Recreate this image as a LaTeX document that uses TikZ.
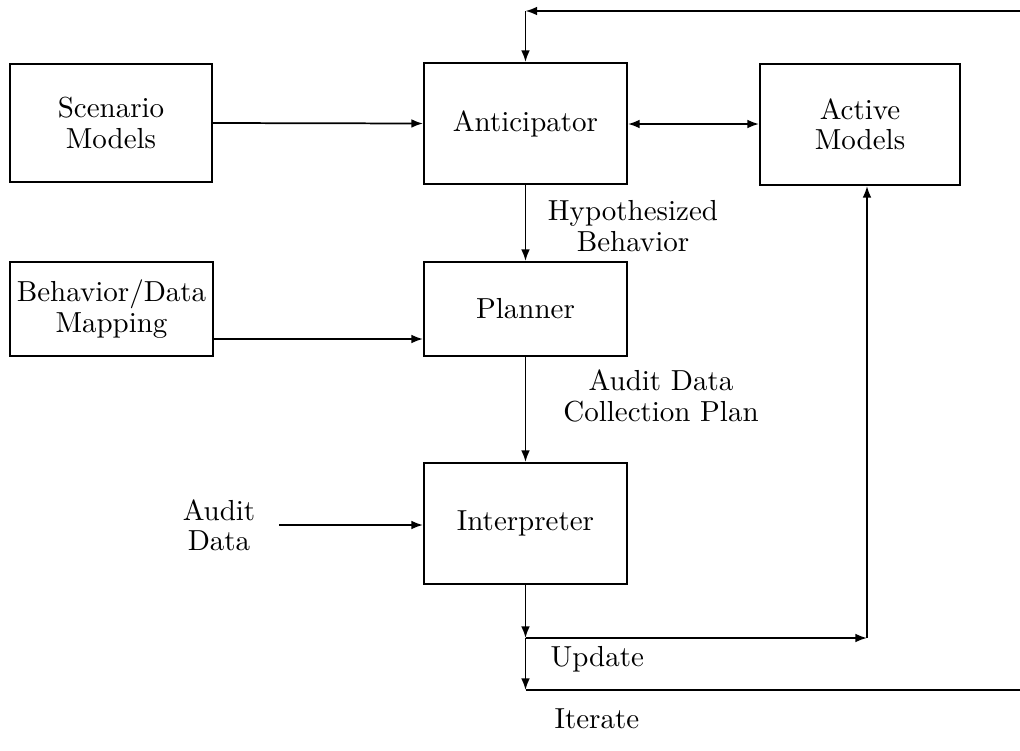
\documentclass[tikz,border=0pt]{standalone}
\usetikzlibrary{arrows.meta}
\begin{document}
\begin{tikzpicture}[x=0.345pt,y=-0.345pt,
  every node/.style={font=\fontsize{10}{10.5}\selectfont, align=center},
  block/.style={draw, line width=0.7pt, inner sep=0pt},
  arr/.style={line width=0.6pt, -{Latex[length=4pt,width=3pt]}},
  dblarr/.style={line width=0.6pt, {Latex[length=4pt,width=3pt]}-{Latex[length=4pt,width=3pt]}},
  wire/.style={line width=0.6pt},
  lbl/.style={inner sep=0pt}]
  \useasboundingbox (0,0) rectangle (1020,751);

  % processing blocks
  \node[block, minimum width=202*0.345pt, minimum height=118*0.345pt] (scen) at (111,123) {Scenario\\Models};
  \node[block, minimum width=203*0.345pt, minimum height=121*0.345pt] (antic) at (525.5,123.5) {Anticipator};
  \node[block, minimum width=200*0.345pt, minimum height=121*0.345pt] (active) at (860,124.5) {Active\\Models};
  \node[block, minimum width=203*0.345pt, minimum height=94*0.345pt] (behav) at (111.5,309) {Behavior/Data\\Mapping};
  \node[block, minimum width=203*0.345pt, minimum height=94*0.345pt] (plan) at (525.5,309) {Planner};
  \node[block, minimum width=203*0.345pt, minimum height=121*0.345pt] (interp) at (525.5,523.5) {Interpreter};

  % free labels
  \node[lbl] (audit) at (219,525) {Audit\\Data};
  \node[lbl] (hyp) at (633,226) {Hypothesized\\Behavior};
  \node[lbl] (adcp) at (661,396) {Audit Data\\Collection Plan};
  \node[lbl, anchor=base west] (upd) at (550,666) {Update};
  \node[lbl, anchor=base west] (iter) at (554,728) {Iterate};

  % auxiliary points
  \coordinate (r1) at (1020,11);
  \coordinate (t1) at (antic.north |- r1);
  \coordinate (a1) at (279,525);
  \coordinate (b1) at (behav.east |- 0,339);
  \coordinate (m1) at (antic.east |- 0,124);
  \coordinate (j1) at (interp.south |- 0,638);
  \coordinate (j2) at (interp.south |- 0,690);
  \coordinate (u1) at (867,638);
  \coordinate (r2) at (1020,690);

  % connectors
  \draw[arr] (scen.east) -- (antic.west);
  \draw[dblarr] (m1) -- (active.west |- m1);
  \draw[arr] (antic.south) -- (plan.north);
  \draw[arr] (b1) -- (plan.west |- b1);
  \draw[arr] (plan.south) -- (interp.north);
  \draw[arr] (a1) -- (interp.west |- a1);
  \draw[arr] (interp.south) -- (j1);
  \draw[arr] (j1) -- (j2);
  \draw[arr] (j1) -- (u1);
  \draw[arr] (u1) -- (u1 |- active.south);
  \draw[wire] (j2) -- (r2);
  \draw[arr] (r1) -- (t1);
  \draw[arr] (t1) -- (antic.north);
\end{tikzpicture}
\end{document}
